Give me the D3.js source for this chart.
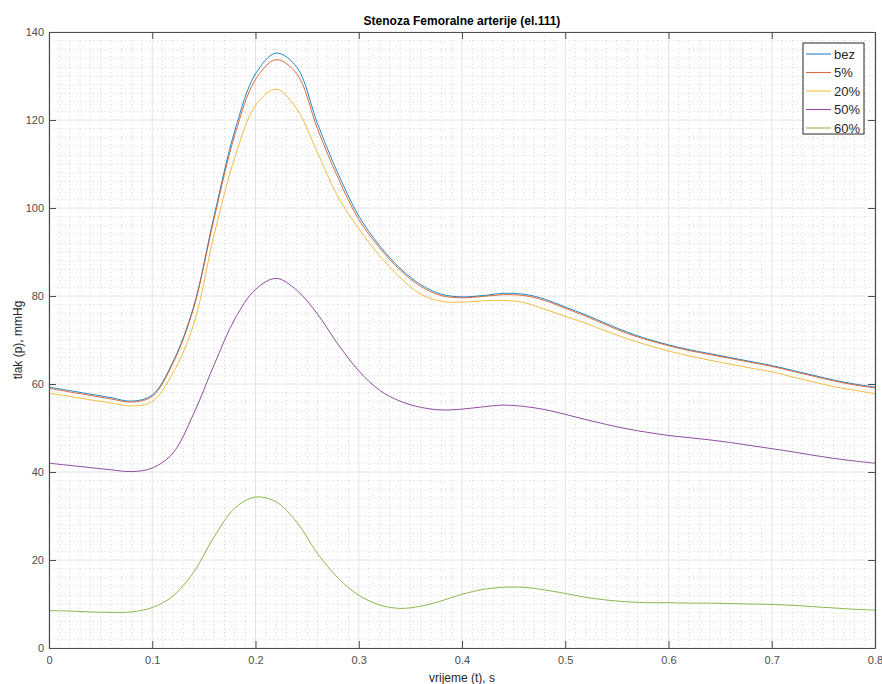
<!DOCTYPE html>
<html lang="en">
<head>
<meta charset="UTF-8">
<title>Stenoza Femoralne arterije</title>
<script src="https://d3js.org/d3.v7.min.js"></script>
<style>
  body { margin: 0; background: #fff; font-family: "Liberation Sans", Arial, sans-serif; }
  .tick text { fill: #4d4d4d; font-size: 11px; }
  .legend text { font-size: 13px; fill: #262626; }
</style>
</head>
<body>
<svg width="882" height="684"></svg>
<script>
// time samples (s), every 0.02
const time = d3.range(41).map(i => +(i * 0.02).toFixed(2));

const bez = [59.3, 58.5, 57.7, 56.9, 56.1, 57.5, 65.0, 77.5, 98.3, 117.6, 130.5, 135.2, 132.0, 119.2, 107.8, 98.2, 91.5, 86.3, 82.6, 80.4, 79.8, 80.1, 80.6, 80.4, 79.3, 77.5, 75.7, 73.7, 71.8, 70.2, 68.9, 67.8, 66.9, 66.0, 65.1, 64.2, 63.1, 62.0, 60.9, 60.0, 59.3];
const p5 = [59.0, 58.2, 57.4, 56.6, 55.9, 57.2, 64.7, 77.2, 97.7, 116.6, 129.2, 133.7, 130.5, 118.0, 106.8, 97.4, 91.0, 85.9, 82.2, 80.1, 79.6, 79.9, 80.3, 80.1, 79.0, 77.2, 75.4, 73.4, 71.5, 70.0, 68.7, 67.6, 66.7, 65.8, 64.9, 64.0, 62.9, 61.8, 60.7, 59.8, 59.1];
const p20 = [57.9, 57.2, 56.4, 55.7, 55.0, 56.0, 62.5, 73.5, 94.0, 111.5, 123.3, 127.0, 122.5, 112.6, 102.5, 95.3, 89.2, 84.2, 80.4, 78.8, 78.6, 78.9, 79.0, 78.5, 77.0, 75.4, 73.8, 72.0, 70.3, 68.8, 67.5, 66.4, 65.4, 64.5, 63.6, 62.8, 61.6, 60.5, 59.4, 58.6, 57.8];
const p50 = [42.0, 41.5, 41.0, 40.5, 40.1, 40.9, 44.3, 53.2, 64.4, 74.8, 81.5, 84.0, 81.3, 75.9, 69.0, 63.0, 58.6, 56.1, 54.7, 54.1, 54.3, 54.8, 55.2, 54.9, 54.2, 53.1, 51.9, 50.8, 49.8, 49.0, 48.3, 47.8, 47.3, 46.7, 46.0, 45.3, 44.6, 43.8, 43.1, 42.5, 42.0];
const p60 = [8.5, 8.4, 8.2, 8.1, 8.2, 9.2, 11.8, 17.2, 25.3, 31.8, 34.3, 33.2, 28.6, 21.5, 15.9, 12.0, 9.8, 9.0, 9.5, 10.7, 12.2, 13.3, 13.8, 13.8, 13.2, 12.4, 11.5, 10.9, 10.5, 10.3, 10.3, 10.2, 10.2, 10.1, 10.0, 9.9, 9.7, 9.4, 9.1, 8.8, 8.6];

const seriesNames = ["bez", "5%", "20%", "50%", "60%"];
const seriesValues = [bez, p5, p20, p50, p60];
const colors = ["#0072bd", "#d95319", "#edb120", "#7e2f8e", "#77ac30"];

const xTicks = [0, 0.1, 0.2, 0.3, 0.4, 0.5, 0.6, 0.7, 0.8];
const yTicks = [0, 20, 40, 60, 80, 100, 120, 140];

const svg = d3.select("svg");
const margin = {top: 32, right: 7, bottom: 36, left: 49};
const width = 882 - margin.left - margin.right;
const height = 684 - margin.top - margin.bottom;

const g = svg.append("g").attr("transform", `translate(${margin.left},${margin.top})`);

const x = d3.scaleLinear().domain([0, 0.8]).range([0, width]);
const y = d3.scaleLinear().domain([0, 140]).range([height, 0]);

// minor grid (dotted)
const xMinor = d3.range(81).map(i => i * 0.01).filter((d, i) => i % 10 !== 0);
const yMinor = d3.range(71).map(i => i * 2).filter((d, i) => i % 10 !== 0);
g.append("g").selectAll("line").data(xMinor).join("line")
  .attr("x1", d => x(d)).attr("x2", d => x(d)).attr("y1", 0).attr("y2", height)
  .attr("stroke", "#d6d6d6").attr("stroke-width", 1).attr("stroke-dasharray", "1,3");
g.append("g").selectAll("line").data(yMinor).join("line")
  .attr("x1", 0).attr("x2", width).attr("y1", d => y(d)).attr("y2", d => y(d))
  .attr("stroke", "#d6d6d6").attr("stroke-width", 1).attr("stroke-dasharray", "1,3");

// major grid
g.append("g").selectAll("line").data(xTicks).join("line")
  .attr("x1", d => x(d)).attr("x2", d => x(d)).attr("y1", 0).attr("y2", height)
  .attr("stroke", "#e3e3e3");
g.append("g").selectAll("line").data(yTicks).join("line")
  .attr("x1", 0).attr("x2", width).attr("y1", d => y(d)).attr("y2", d => y(d))
  .attr("stroke", "#e3e3e3");

// lines
const line = d3.line().x((d, i) => x(time[i])).y(d => y(d)).curve(d3.curveCatmullRom.alpha(0.5));
seriesValues.forEach((vals, k) => {
  g.append("path").datum(vals)
    .attr("fill", "none")
    .attr("stroke", colors[k])
    .attr("stroke-opacity", 0.85)
    .attr("stroke-width", 1)
    .attr("d", line);
});

// axes with inward ticks on all four sides
const axisColor = "#4d4d4d";
const fmtX = d => d === 0 ? "0" : d3.format(".1f")(d);
const axBottom = g.append("g").attr("transform", `translate(0,${height})`)
  .call(d3.axisBottom(x).tickValues(xTicks).tickFormat(fmtX).tickSizeInner(-7).tickSizeOuter(0).tickPadding(8));
const axLeft = g.append("g")
  .call(d3.axisLeft(y).tickValues(yTicks).tickSizeInner(-7).tickSizeOuter(0).tickPadding(5));
const axTop = g.append("g")
  .call(d3.axisTop(x).tickValues(xTicks).tickFormat("").tickSizeInner(-7).tickSizeOuter(0));
const axRight = g.append("g").attr("transform", `translate(${width},0)`)
  .call(d3.axisRight(y).tickValues(yTicks).tickFormat("").tickSizeInner(-7).tickSizeOuter(0));
[axBottom, axLeft, axTop, axRight].forEach(a => {
  a.selectAll("path.domain").attr("stroke", axisColor).attr("stroke-width", 1.2);
  a.selectAll(".tick line").attr("stroke", axisColor);
  a.selectAll(".tick text").attr("font-family", "Liberation Sans, Arial, sans-serif");
});

// title and labels
svg.append("text")
  .attr("x", margin.left + width / 2).attr("y", 25)
  .attr("text-anchor", "middle")
  .attr("font-size", 12).attr("font-weight", "bold").attr("fill", "#000")
  .text("Stenoza Femoralne arterije (el.111)");

svg.append("text")
  .attr("x", margin.left + width / 2).attr("y", 682)
  .attr("text-anchor", "middle")
  .attr("font-size", 12).attr("fill", "#262626")
  .text("vrijeme (t), s");

svg.append("text")
  .attr("transform", `translate(22,${margin.top + height / 2}) rotate(-90)`)
  .attr("text-anchor", "middle")
  .attr("font-size", 12).attr("fill", "#262626")
  .text("tlak (p), mmHg");

// legend
const legend = svg.append("g").attr("class", "legend").attr("transform", "translate(803,43)");
legend.append("rect")
  .attr("width", 61).attr("height", 91)
  .attr("fill", "#fff").attr("stroke", "#262626").attr("stroke-width", 1);
seriesNames.forEach((name, i) => {
  const yy = 11 + i * 18.5;
  legend.append("line")
    .attr("x1", 3).attr("x2", 28).attr("y1", yy).attr("y2", yy)
    .attr("stroke", colors[i]).attr("stroke-opacity", 0.85).attr("stroke-width", 1.1);
  legend.append("text")
    .attr("x", 31).attr("y", yy + 4.5)
    .text(name);
});
</script>
</body>
</html>
